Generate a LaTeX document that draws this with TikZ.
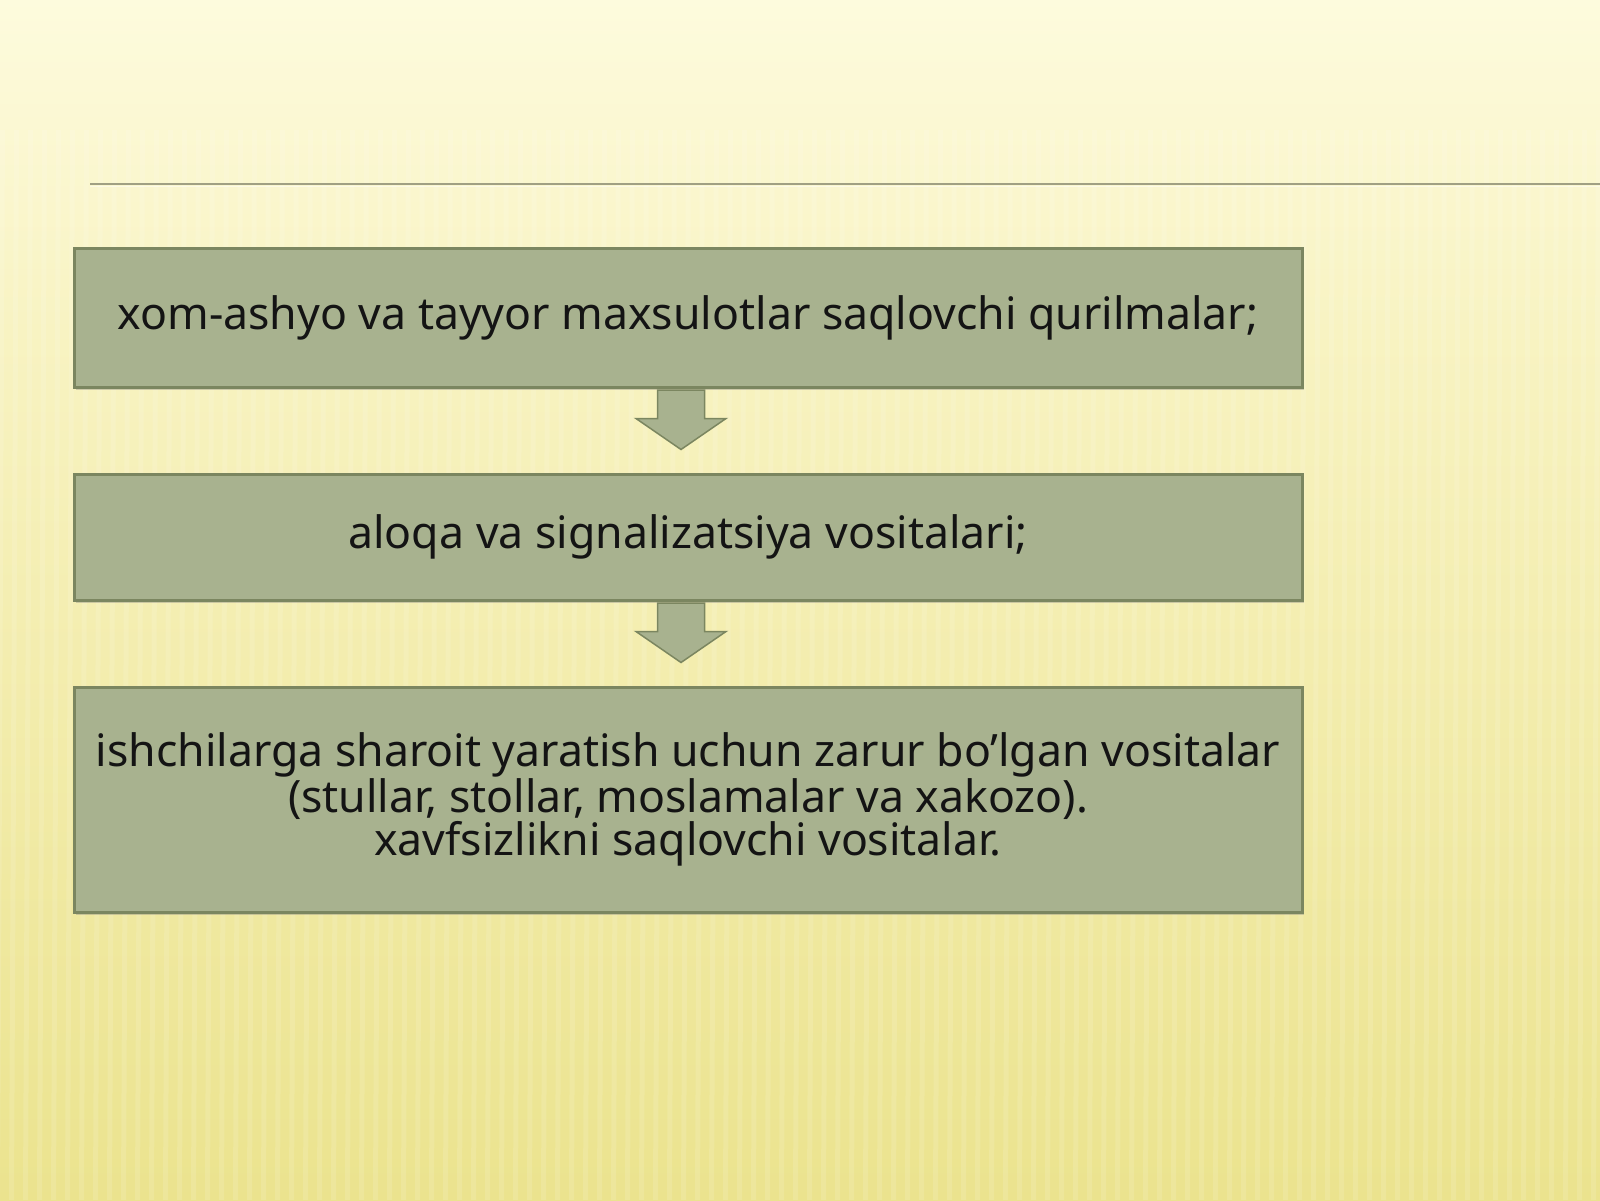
\documentclass[tikz,border=0pt]{standalone}
\usepackage{fontspec}
\setmainfont{Noto Sans}
\usetikzlibrary{calc,shadows}
\definecolor{bgtop}{HTML}{FDFBDD}
\definecolor{bgmid}{HTML}{F8F3C2}
\definecolor{bgbot}{HTML}{EBE38E}
\definecolor{boxfill}{HTML}{A8B28F}
\definecolor{boxline}{HTML}{7B8660}
\definecolor{rulecol}{HTML}{A0A083}
\definecolor{txt}{HTML}{141414}
\tikzset{
  stepbox/.style={draw=boxline, line width=3pt, fill=boxfill, inner sep=0pt,
    minimum width=1228pt, text=txt, align=center,
    font=\fontsize{44.6}{43}\selectfont,
    drop shadow={opacity=0.35, shadow xshift=2pt, shadow yshift=-3pt}},
  blockarrow/.style={draw=boxline, line width=1.5pt, fill=boxfill, line join=miter},
}
\begin{document}
\begin{tikzpicture}[x=1pt,y=-1pt]
\useasboundingbox (0,0) rectangle (1600,1200);
% background
\shade[top color=bgtop, bottom color=bgmid] (0,0) rectangle (1600,330);
\shade[top color=bgmid, bottom color=bgbot] (0,330) rectangle (1600,1200);
\foreach \x in {0,14,...,1600} {
  \fill[white, opacity=0.12] (\x,130) -- (\x+5,130) -- (\x,1200) -- (\x-5,1200) -- cycle;
}
% rule
\draw[rulecol, line width=2.2pt] (90,184) -- (1600,184);
\draw[white, opacity=0.5, line width=1pt] (90,186.8) -- (1600,186.8);
% boxes
\node[stepbox, minimum height=139pt] (b1) at (688,317.5)
  {xom-ashyo va tayyor maxsulotlar saqlovchi qurilmalar;};
\node[stepbox, minimum height=126pt] (b2) at (688,537)
  {aloqa va signalizatsiya vositalari;};
\node[stepbox, minimum height=225pt] (b3) at (688,799.5)
  {ishchilarga sharoit yaratish uchun zarur bo’lgan vositalar\\
   (stullar, stollar, moslamalar va xakozo).\\
   xavfsizlikni saqlovchi vositalar.};
% block arrows
\foreach \a/\b in {b1/b2, b2/b3} {
  \path let \p1=(\a.south), \p2=(\b.north) in
    coordinate (s) at (\x1-7,\y1)
    coordinate (t) at (\x1-7,\y2);
  \draw[blockarrow]
    ($(s)+(-23.5,1.5)$) -- ($(s)+(-23.5,30)$) -- ($(s)+(-45,30)$) --
    ($(t)+(0,-23)$) --
    ($(s)+(45,30)$) -- ($(s)+(23.5,30)$) -- ($(s)+(23.5,1.5)$) -- cycle;
}
\end{tikzpicture}
\end{document}
